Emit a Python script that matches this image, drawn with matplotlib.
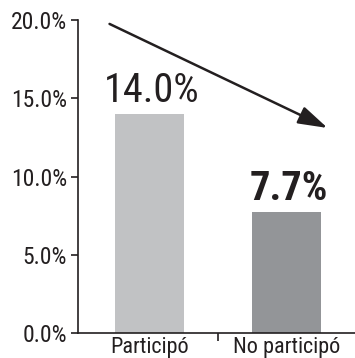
import matplotlib.pyplot as plt
from matplotlib import font_manager

# Data
categories = ["Participó", "No participó"]
values = [14.0, 7.7]
value_labels = ["14.0%", "7.7%"]
label_weights = ["normal", "bold"]
bar_colors = ["#c1c2c4", "#939598"]

# pick a narrow font if one is around
names = {f.name for f in font_manager.fontManager.ttflist}
narrow = [n for n in ["Liberation Sans Narrow", "Roboto Condensed", "Open Sans Condensed"] if n in names]
plt.rcParams["font.family"] = narrow + ["DejaVu Sans"]
plt.rcParams["font.stretch"] = "condensed"

ink = "#231f20"

fig = plt.figure(figsize=(3.55, 3.58), dpi=100)
ax = fig.add_axes([78 / 355, 25 / 358, 277 / 355, 313 / 358])

x = list(range(len(categories)))
bars = ax.bar(x, values, width=0.5, color=bar_colors)

# value labels above bars
for bar, lab, w in zip(bars, value_labels, label_weights):
    ax.annotate(lab, (bar.get_x() + bar.get_width() / 2, bar.get_height()),
                xytext=(2, 3), textcoords="offset points",
                ha="center", va="bottom", fontsize=29, fontweight=w,
                fontstretch="condensed", color=ink)

# trend arrow
ax.annotate("", xy=(1.30, 13.1), xytext=(-0.29, 19.75),
            arrowprops=dict(arrowstyle="-|>,head_length=1.8,head_width=0.55",
                            color=ink, lw=1.8, shrinkA=0, shrinkB=0),
            annotation_clip=False)

ax.set_xlim(-0.52, 1.5)
ax.set_ylim(0, 20)
ax.set_yticks([0, 5, 10, 15, 20])
ax.set_yticklabels([f"{v:.1f}%" for v in [0, 5, 10, 15, 20]])
ax.set_xticks(x)
ax.set_xticklabels(categories)
ax.set_xticks([0.5], minor=True)
ax.tick_params(axis="x", which="major", length=0, pad=3, labelsize=16, colors=ink)
ax.tick_params(axis="x", which="minor", length=6, width=1.2, color=ink)
ax.tick_params(axis="y", length=5, width=1.2, pad=3, labelsize=17, colors=ink)

for s in ["top", "right"]:
    ax.spines[s].set_visible(False)
for s in ["left", "bottom"]:
    ax.spines[s].set_color(ink)
    ax.spines[s].set_linewidth(1.2)

fig.savefig("out.png", dpi=100)
